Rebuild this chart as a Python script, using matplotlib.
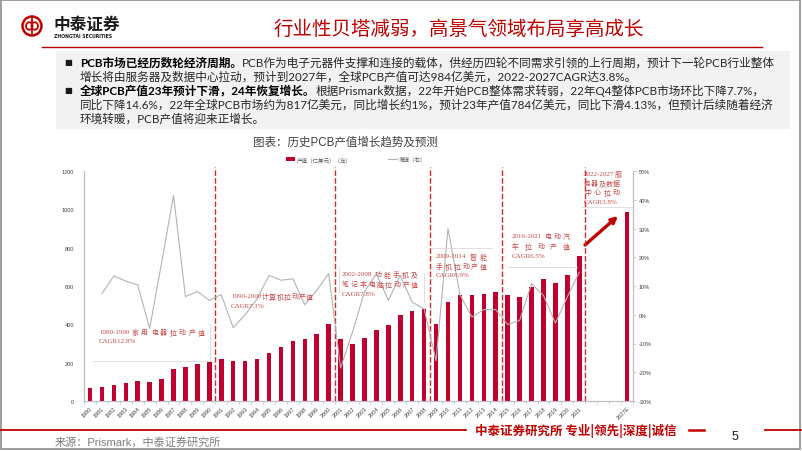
import re
import numpy as np
import matplotlib
matplotlib.use('Agg')
import matplotlib.pyplot as plt
from matplotlib.patches import Rectangle, Ellipse
from matplotlib.lines import Line2D

W, H = 802, 452

# ---------------- data ----------------
years = [str(y) for y in range(1980, 2022)] + ['', '', '', '2027E']
output = [70, 75, 85, 93, 103, 98, 116, 165, 177, 191, 203,
          220, 210, 210, 220, 252, 280, 315, 325, 350, 400,
          325, 300, 330, 373, 395, 450, 470, 480,
          400, 517, 555, 551, 560, 570,
          551, 542, 597, 636, 615, 657, 756,
          np.nan, np.nan, np.nan, 984]
growth = [np.nan, 7.3, 13.5, 11.7, 10.4, -4.8, 18.0, 41.5, 6.3, 8.1, 5.0,
          7.0, -4.5, 0.0, 5.5, 13.7, 12.0, 12.5, 3.5, 8.5, 14.3,
          -18.5, -6.0, 8.0, 14.3, 5.0, 13.7, 4.4, 2.0,
          -16.0, 30.0, 7.0, -0.8, 1.8, 1.8,
          -3.4, -2.0, 10.8, 6.7, -2.9, 6.2, 14.8,
          np.nan, np.nan, np.nan, np.nan]
era_end_years = ['1990', '2000', '2008', '2014', '2021']
left_ticks = [0, 200, 400, 600, 800, 1000, 1200]
right_ticks = [-30, -20, -10, 0, 10, 20, 30, 40, 50]

RED = '#C00000'
BAR = '#C0002F'
ANN = '#C64848'
CJK = 'Noto Sans CJK SC'

fig = plt.figure(figsize=(W / 100, H / 100), dpi=100)
fig.patch.set_facecolor('white')
renderer = fig.canvas.get_renderer()


def fx(x):
    return x / W


def fy(y):
    return 1 - y / H


def width(t):
    return t.get_window_extent(renderer).width


def put_runs(x, y, runs, **kw):
    for s, bold, color in runs:
        t = fig.text(fx(x), fy(y), s, fontweight='bold' if bold else 'normal',
                     color=color, va='center', ha='left', **kw)
        x += width(t)


def put_justified(x0, x1, y, s, **kw):
    toks = re.findall(r'[0-9A-Za-z.\-%]+|\S', s)
    ts = [fig.text(0, 0, tok, va='center', ha='left', **kw) for tok in toks]
    ws = [width(t) for t in ts]
    gap = 0
    if len(toks) > 1:
        gap = max(0.0, (x1 - x0 - sum(ws)) / (len(toks) - 1))
    x = x0
    for t, w in zip(ts, ws):
        t.set_position((fx(x), fy(y)))
        x += w + gap


def ell(cx, cy, w, h, **kw):
    fig.add_artist(Ellipse((fx(cx), fy(cy)), w / W, h / H, transform=fig.transFigure, **kw))


# ---------------- slide frame & header ----------------
fig.add_artist(Rectangle((fx(1), fy(450)), 799 / W, 449 / H, transform=fig.transFigure,
                         fill=False, edgecolor='#8C8C8C', lw=1.2))
# logo
ell(32, 27, 19, 19, fill=False, edgecolor=RED, lw=1.8)
ell(29.3, 27, 6.5, 7.5, fill=False, edgecolor=RED, lw=1.3)
ell(34.7, 27, 6.5, 7.5, fill=False, edgecolor=RED, lw=1.3)
fig.add_artist(Line2D([fx(32), fx(32)], [fy(19), fy(35)], transform=fig.transFigure,
                      color=RED, lw=1.3))
fig.text(fx(53), fy(25), '中泰证券', family=CJK, fontweight='bold', fontsize=12,
         color='#1A1A1A', va='center', ha='left')
fig.text(fx(54), fy(36), 'ZHONGTAI SECURITIES', family='DejaVu Sans', fontweight='bold',
         fontsize=3.3, color='#1A1A1A', va='center', ha='left')
fig.text(fx(459), fy(29), '行业性贝塔减弱，高景气领域布局享高成长', family=CJK,
         fontsize=14, color=RED, va='center', ha='center')
fig.add_artist(Line2D([fx(42), fx(762)], [fy(48), fy(48)], transform=fig.transFigure,
                      color=RED, lw=1.0))

# ---------------- text block ----------------
fig.add_artist(Rectangle((fx(56), fy(130)), (790 - 56) / W, 78 / H, transform=fig.transFigure,
                         facecolor='#F2F2F2', edgecolor='none'))
body = dict(family=['Lato', CJK], fontsize=8.4)
for yb in (63, 91):
    fig.text(fx(68), fy(yb), '■', family='DejaVu Sans', fontsize=6, color='#1A1A1A',
             va='center', ha='center')
TXT = '#262626'
put_runs(80, 63, [('PCB市场已经历数轮经济周期。', True, '#000000'),
                  ('PCB作为电子元器件支撑和连接的载体，供经历四轮不同需求引领的上行周期，预计下一轮PCB行业整体', False, TXT)], **body)
put_runs(80, 77, [('增长将由服务器及数据中心拉动，预计到2027年，全球PCB产值可达984亿美元，2022-2027CAGR达3.8%。', False, TXT)], **body)
put_runs(80, 91, [('全球PCB产值23年预计下滑，24年恢复增长。', True, '#000000'),
                  ('根据Prismark数据，22年开始PCB整体需求转弱，22年Q4整体PCB市场环比下降7.7%，', False, TXT)], **body)
put_runs(80, 105, [('同比下降14.6%，22年全球PCB市场约为817亿美元，同比增长约1%，预计23年产值784亿美元，同比下滑4.13%，但预计后续随着经济', False, TXT)], **body)
put_runs(80, 119, [('环境转暖，PCB产值将迎来正增长。', False, TXT)], **body)

# chart title
fig.text(fx(345), fy(143), '图表：历史PCB产值增长趋势及预测', family=['Liberation Sans', CJK],
         fontsize=8.3, color='#404040', va='center', ha='center')

# ---------------- chart ----------------
ax = fig.add_axes([fx(84), fy(402), (633 - 84) / W, (402 - 172) / H])
x = np.arange(len(years))
bars = ax.bar(x, output, width=0.38, color=BAR, label='产值（亿美元）（左）', zorder=2)
ax.set_xlim(-0.5, len(years) - 0.5)
ax.set_ylim(left_ticks[0], left_ticks[-1])
ax.set_yticks(left_ticks)
ax.set_yticklabels([str(v) for v in left_ticks])
ax.set_xticks(x)
ax.set_xticklabels(years, rotation=45, ha='right', va='top', rotation_mode='anchor')
ax.set_xticks(np.arange(len(years) + 1) - 0.5, minor=True)
ax.tick_params(axis='x', which='major', length=0, pad=3, labelsize=4, labelcolor='#404040')
ax.tick_params(axis='x', which='minor', length=2, width=0.5, color='#BFBFBF')
ax.tick_params(axis='y', length=0, pad=7, labelsize=4, labelcolor='#404040')
for lab in ax.get_xticklabels() + ax.get_yticklabels():
    lab.set_family('Liberation Sans')

ax2 = ax.twinx()
line, = ax2.plot(x, growth, color='#B3B3B3', lw=0.8, label='增速（右）', zorder=3)
ax2.set_ylim(right_ticks[0], right_ticks[-1])
ax2.set_yticks(right_ticks)
ax2.set_yticklabels([f'{v}%' for v in right_ticks])
ax2.tick_params(axis='y', length=2, width=0.5, color='#BFBFBF', pad=2, labelsize=4,
                labelcolor='#404040')
for lab in ax2.get_yticklabels():
    lab.set_family('Liberation Sans')

for a in (ax, ax2):
    a.patch.set_visible(False)
    a.spines['top'].set_visible(False)
    for s in ('left', 'right', 'bottom'):
        a.spines[s].set_color('#BFBFBF')
        a.spines[s].set_linewidth(0.8)

for ey in era_end_years:
    b = years.index(ey) + 0.5
    ax.axvline(b, ymin=0, ymax=1.018, color='#D42A33', ls=(0, (4, 1.6)), lw=1.0,
               clip_on=False, zorder=4)

leg = ax.legend([bars, line], ['产值（亿美元）（左）', '增速（右）'], loc='center',
                bbox_to_anchor=(fx(356), fy(160)), bbox_transform=fig.transFigure, ncol=2,
                frameon=False, handlelength=1.6, handleheight=0.5,
                columnspacing=6.5, handletextpad=0.3, prop={'family': CJK, 'size': 4})
for t in leg.get_texts():
    t.set_color('#595959')

# era annotations
ann = dict(family=['Liberation Serif', CJK], fontsize=5, color=ANN)
put_justified(99, 205, 333, '1980-1990 家用电器拉动产值', **ann)
put_justified(99, 140, 342, 'CAGR12.8%', **ann)
put_justified(231, 313, 297, '1990-2000计算机拉动产值', **ann)
put_justified(231, 262, 306, 'CAGR7.1%', **ann)
put_justified(342, 418, 275, '2002-2008功能手机及', **ann)
put_justified(342, 418, 285, '笔记本电脑拉动产值', **ann)
put_justified(342, 373, 294, 'CAGR7.8%', **ann)
put_justified(436, 487, 257, '2009-2014智能', **ann)
put_justified(436, 487, 267, '手机拉动产值', **ann)
put_justified(436, 467, 276, 'CAGR6.9%', **ann)
put_justified(512, 570, 237, '2016-2021电动汽', **ann)
put_justified(512, 570, 247, '车拉动产值', **ann)
put_justified(512, 543, 256, 'CAGR6.5%', **ann)
put_justified(584, 620, 175, '2022-2027服', **ann)
put_justified(584, 620, 184, '务器及数据', **ann)
put_justified(584, 620, 193, '中心拉动', **ann)
put_justified(584, 615, 203, 'CAGR3.8%', **ann)

# faint annotation box edges
GR = '#D9D9D9'
for (xs, ys) in [([93, 210], [362, 362]), ([210, 210], [325, 362]),
                 ([339, 339], [267, 294]), ([424, 424], [275, 305]),
                 ([432, 492], [249, 249]), ([508, 577], [268, 268]),
                 ([582, 632], [208, 208])]:
    fig.add_artist(Line2D([fx(v) for v in xs], [fy(v) for v in ys],
                          transform=fig.transFigure, color=GR, lw=0.6))

# arrow
ax.annotate('', xy=(618, H - 217), xycoords='figure pixels',
            xytext=(585, H - 246), textcoords='figure pixels',
            arrowprops=dict(arrowstyle='-|>', color=RED, lw=2.4, mutation_scale=9,
                            shrinkA=0, shrinkB=0))

# ---------------- footer ----------------
fig.add_artist(Line2D([fx(1), fx(466)], [fy(431), fy(431)], transform=fig.transFigure,
                      color=RED, lw=1.3))
fig.text(fx(576), fy(431), '中泰证券研究所 专业|领先|深度|诚信', family=CJK, fontweight='bold',
         fontsize=9, color=RED, va='center', ha='center')
fig.add_artist(Line2D([fx(689), fx(704)], [fy(431), fy(431)], transform=fig.transFigure,
                      color=RED, lw=1.8))
fig.text(fx(735), fy(437), '5', family='Liberation Sans', fontsize=9, color='#1A1A1A',
         va='center', ha='center')
fig.add_artist(Line2D([fx(765), fx(801)], [fy(431), fy(431)], transform=fig.transFigure,
                      color=RED, lw=1.3))
fig.text(fx(55), fy(442), '来源：Prismark，中泰证券研究所', family=['Liberation Sans', CJK],
         fontsize=8, color='#7F7F7F', va='center', ha='left')

fig.savefig('out.png', dpi=100)
